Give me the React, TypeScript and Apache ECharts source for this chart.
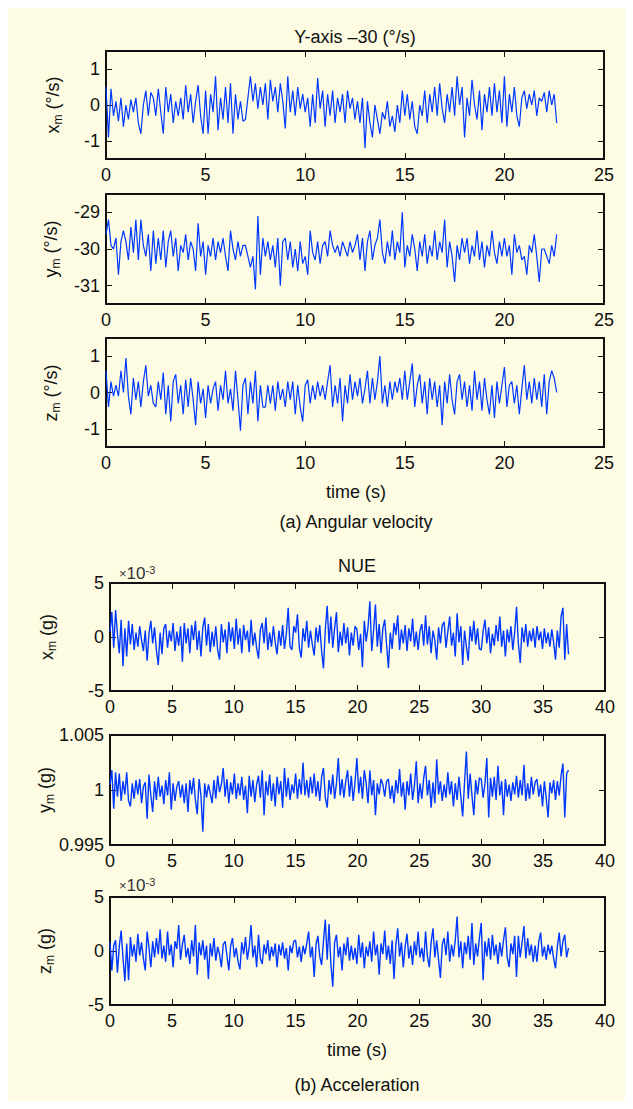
import React, { useEffect, useRef } from 'react';
import * as echarts from 'echarts';

// ---- data ----
// (a) Angular velocity, sample step 0.125 s, values in °/s
const DT_ANG = 0.125;
const angXm = [
  0.5, -0.9, 0.45, -0.3, 0.1, -0.45, 0.2, -0.6,
  0.0, -0.4, 0.15, -0.2, 0.2, -0.5, -0.8, 0.0,
  0.4, -0.3, 0.35, 0.2, -0.3, 0.45, -0.2, -0.8,
  0.5, -0.2, 0.3, -0.5, 0.1, -0.3, 0.2, -0.4,
  0.55, -0.2, 0.3, -0.5, 0.1, 0.55, -0.3, -0.8,
  0.4, -0.8, 0.3, -0.2, 0.8, -0.7, 0.2, -0.4,
  0.5, -0.5, 0.6, -0.8, 0.3, -0.4, 0.1, -0.45,
  -0.4, 0.2, 0.8, 0.1, 0.6, -0.1, 0.5, 0.0,
  0.6, -0.4, 0.7, 0.1, 0.5, -0.2, 0.6, 0.1,
  -0.65, 0.8, -0.2, 0.4, -0.3, 0.5, -0.1, 0.3,
  -0.2, 0.2, -0.6, 0.3, -0.5, 0.75, -0.1, 0.4,
  -0.6, 0.3, -0.3, 0.4, -0.5, 0.2, -0.2, 0.3,
  -0.5, 0.4, -0.1, 0.2, -0.4, 0.1, -0.5, 0.2,
  -1.2, 0.1, -0.5, -0.9, 0.0, -0.4, -0.8, -0.2,
  -0.4, 0.1, -0.6, -0.3, -0.75, 0.0, -0.5, 0.4,
  -0.3, 0.3, -0.4, 0.1, -0.6, -0.8, 0.0, -0.3,
  0.4, -0.5, 0.3, -0.2, 0.5, -0.3, 0.6, -0.1,
  -0.5, 0.3, -0.2, 0.5, -0.3, 0.8, 0.0, 0.5,
  -0.9, 0.2, -0.3, 0.7, 0.0, -0.4, 0.4, -0.7,
  0.3, -0.2, 0.5, -0.3, 0.6, -0.2, 0.4, -0.5,
  0.8, -0.6, 0.3, -0.2, 0.5, -0.3, -0.6, 0.2,
  0.4, -0.1, 0.3, 0.0, 0.4, -0.3, 0.2, 0.1,
  0.35, -0.2, 0.4, 0.0, 0.3, -0.5,
];
const angYm = [
  -29.6, -29.2, -29.9, -30.0, -29.7, -30.7, -29.8, -29.5,
  -29.8, -30.3, -29.4, -30.1, -29.2, -30.3, -29.2, -29.9,
  -30.2, -29.6, -30.6, -29.5, -30.4, -29.7, -30.3, -29.5,
  -30.5, -29.8, -29.5, -30.2, -29.7, -30.6, -29.9, -30.1,
  -29.6, -30.3, -29.8, -30.0, -30.6, -29.3, -30.2, -29.8,
  -30.7, -29.9, -30.2, -29.7, -30.3, -29.8, -30.1, -29.7,
  -30.2, -30.6, -29.5, -30.0, -30.3, -29.8, -30.2, -29.9,
  -29.9, -30.2, -30.5, -30.2, -31.1, -29.1, -30.7, -29.7,
  -30.2, -29.8, -30.3, -29.9, -30.5, -29.7, -31.0, -29.8,
  -29.7, -30.3, -29.8, -30.5, -30.0, -30.6, -29.8, -30.4,
  -30.2, -30.7, -29.5, -30.1, -30.3, -29.8, -30.4, -29.9,
  -29.8, -30.2, -29.5, -29.9, -30.1, -29.9, -30.2, -29.8,
  -30.0, -30.2, -29.8, -30.1, -29.9, -29.6, -30.3, -29.7,
  -30.6, -29.8, -29.5, -30.3, -29.9, -29.7, -29.2, -30.1,
  -30.4, -29.8, -30.2, -29.5, -30.3, -29.8, -30.1, -29.0,
  -30.5, -29.9, -30.2, -29.6, -30.0, -30.6, -29.8, -30.2,
  -29.6, -30.4, -29.9, -30.2, -29.5, -30.3, -29.8, -30.1,
  -29.2, -30.5, -29.8, -30.2, -30.9, -29.9, -30.3, -29.7,
  -30.1, -29.7, -30.4, -29.9, -30.2, -29.5, -30.3, -29.8,
  -30.5, -29.9, -30.2, -29.5, -30.1, -30.4, -29.8, -30.2,
  -29.7, -30.2, -29.9, -30.7, -29.6, -30.1, -29.9, -30.3,
  -30.2, -30.7, -29.9, -30.1, -29.6, -30.2, -30.9, -30.0,
  -30.0, -30.2, -30.4, -29.9, -30.2, -29.6,
];
const angZm = [
  0.6, -0.4, 0.3, -0.1, 0.2, -0.1, 0.6, 0.0,
  0.95, -0.1, -0.6, 0.4, -0.2, 0.3, -0.4, 0.3,
  0.75, -0.1, 0.2, -0.3, -0.4, 0.3, -0.2, 0.55,
  -0.6, 0.2, -0.8, 0.3, 0.5, -0.3, 0.2, -0.6,
  0.35, -0.4, 0.4, -0.2, -0.9, 0.3, -0.3, 0.1,
  -0.7, 0.2, -0.3, 0.1, 0.3, -0.5, 0.2, -0.2,
  0.6, -0.3, 0.1, -0.5, 0.6, -0.2, -1.05, 0.2,
  0.4, -0.6, 0.3, -0.3, 0.6, -0.8, 0.2, -0.4,
  -0.4, 0.2, -0.3, 0.2, -0.5, 0.3, -0.2, 0.1,
  -0.4, 0.3, -0.2, 0.3, -0.6, 0.2, -0.4, -0.8,
  0.2, 0.35, -0.3, 0.2, -0.2, 0.3, -0.1, 0.2,
  -0.2, 0.3, 0.75, -0.4, 0.2, -0.3, 0.4, -0.8,
  0.2, -0.3, 0.5, -0.2, 0.3, -0.1, 0.4, -0.3,
  0.1, 0.6, -0.3, 0.4, -0.2, 0.3, 1.0, -0.3,
  0.2, -0.4, 0.3, -0.2, 0.3, 0.0, 0.4, -0.2,
  0.6, -0.2, 0.3, 0.8, -0.4, 0.2, 0.5, -0.3,
  0.3, -0.6, 0.4, -0.2, 0.3, -0.4, 0.2, -0.9,
  0.3, -0.3, 0.5, -0.2, -0.6, 0.3, 0.5, -0.2,
  0.3, -0.4, 0.2, -0.5, 0.6, -0.2, 0.3, -0.5,
  0.4, -0.2, -0.6, 0.2, -0.7, 0.3, -0.3, 0.2,
  0.7, -0.4, 0.2, 0.3, -0.3, 0.2, -0.6, 0.1,
  0.75, -0.2, 0.3, -0.3, 0.4, -0.2, 0.3, -0.4,
  0.5, -0.6, 0.3, 0.6, 0.4, 0.0,
];

// (b) Acceleration, sample step 0.15 s; x/z in units of 1e-3 g, y as deviation from 1 g in 1e-3 g
const DT_ACC = 0.15;
const accXm = [
  0.5, 2.3, -1.0, 2.5, 0.3, -1.5, 1.6, -2.7, 0.8, -1.8,
  1.5, -0.7, 1.2, -1.2, 0.4, -0.9, 1.0, -0.3, -1.3, 0.6,
  -2.2, 0.3, 1.5, -0.6, 0.9, -1.2, -2.6, 0.4, -1.6, 0.8,
  1.2, -1.0, 0.6, -0.4, 1.3, -1.3, 0.5, -0.8, 1.0, -2.3,
  1.3, -0.6, 0.8, -1.5, 1.1, -0.3, 1.5, -1.2, 0.6, -1.8,
  0.9, 1.8, -0.8, 1.2, -1.4, 0.5, -0.9, 1.0, -1.2, -2.1,
  1.2, -0.5, 0.7, -1.5, 1.4, -0.4, 0.9, -1.1, 1.7, -0.7,
  0.8, -1.5, 1.1, -0.3, 0.6, -1.4, 1.6, -0.8, 0.4, -1.0,
  -2.0, 0.7, 1.3, -0.6, 1.8, -1.2, 0.4, -0.9, 1.0, -0.5,
  -1.6, 0.6, -0.8, 1.1, -1.1, 0.3, 2.7, -0.9, -1.2, 1.0,
  0.4, 2.1, -1.0, -1.9, 0.8, -0.4, 1.5, -1.0, 0.6, -0.7,
  -1.7, 0.9, -0.5, 1.1, -1.3, -2.9, 0.7, 2.9, -0.6, 1.9,
  -1.0, 0.8, 2.3, -1.4, 0.5, -0.8, 1.3, -0.6, 0.9, -1.7,
  0.4, -0.8, 1.0, 0.7, -1.2, 0.3, -2.8, 1.5, -0.4, 0.9,
  3.3, -1.3, 0.6, 3.0, -0.9, 1.2, -1.5, 0.8, 1.6, -0.7,
  -2.9, 0.4, -1.1, 1.3, 0.2, 2.0, -1.2, 0.7, -0.6, 1.1,
  -1.3, 0.8, -0.4, 1.7, -0.9, 0.5, -1.2, 0.6, 1.2, -0.8,
  2.0, -0.7, 1.0, -1.5, 0.6, -0.3, -2.1, 0.9, -0.6, 1.1,
  1.4, -1.0, 0.5, 1.9, -0.8, 0.4, -1.8, 2.2, -0.5, 1.0,
  -2.6, 0.6, -0.9, -2.2, 1.0, -0.4, 1.5, -0.7, 0.8, -1.1,
  -1.2, 0.5, 1.6, -0.6, 0.9, -1.5, 0.3, -0.8, 1.1, -0.4,
  1.9, -0.9, 0.6, -1.8, 0.7, -0.5, 1.0, -1.2, 0.4, 2.8,
  -0.6, -2.4, 0.9, -0.5, 1.2, -0.9, 0.6, -0.4, 0.8, -1.0,
  1.0, -0.3, 0.5, -1.1, 0.8, -0.6, 0.4, -0.9, 0.7, -0.5,
  -2.1, 0.6, -1.0, 1.9, 2.7, -2.1, 1.2, -1.6,
];
const accYmDevMg = [
  0.5, 1.8, -1.7, 1.6, -0.6, 1.5, -1.0, 0.8, -0.4, 1.6,
  -1.0, -1.5, 0.6, -0.8, 0.9, -0.4, 1.0, -1.2, 0.3, 0.7,
  -2.6, 1.4, -0.5, -2.0, 0.8, -0.9, 1.2, -0.6, 0.4, -1.3,
  0.9, -0.5, 1.6, -1.8, 0.6, -1.0, 0.3, 0.8, -0.7, 0.5,
  -1.2, 0.6, -2.0, 0.9, -0.4, 1.1, -0.9, -2.2, 1.0, -0.5,
  -3.8, 0.6, -0.7, 0.5, -0.3, -1.2, 0.9, -0.8, 1.3, -0.2,
  0.5, 2.0, -0.6, 1.0, -1.2, 0.7, -0.4, 1.5, -0.8, 0.6,
  -0.5, 1.2, -0.9, 0.4, -2.1, 1.3, -0.6, 0.9, -1.1, 0.5,
  1.3, -0.7, 1.8, -2.3, 0.8, -0.5, 1.4, -1.0, 0.6, -1.5,
  1.2, -0.4, 0.8, -1.6, 2.0, -0.6, 1.1, -0.9, 0.5, -0.3,
  1.5, -0.8, 1.0, -0.4, 2.5, -0.5, 0.9, -0.7, 1.2, -0.3,
  1.5, -0.6, 0.8, -1.0, 1.2, 2.0, -0.7, -1.6, 0.9, -0.4,
  1.4, -0.8, 0.6, 2.9, -0.5, 1.0, -0.7, 0.8, 1.8, -0.6,
  1.3, -1.0, 0.7, 2.9, -0.3, 1.2, -0.8, 1.8, 0.6, -1.2,
  1.8, -0.5, 0.9, -2.3, 0.6, -0.4, 1.0, 0.5, -0.6, 0.8,
  1.0, -0.8, 0.4, -1.2, 0.9, -0.3, 1.9, -0.6, 0.7, -1.8,
  0.8, -0.5, 1.5, -0.9, 0.4, 2.6, -1.2, 0.6, -0.8, 1.1,
  2.2, -0.5, 0.9, -1.6, 0.7, -1.2, 2.8, -0.4, 0.8, -1.0,
  0.5, -0.7, 1.6, -0.4, 0.8, -1.5, 0.6, -0.9, 1.2, -0.6,
  -2.4, 0.7, 3.5, -0.8, 1.5, -0.5, -2.3, 0.9, -0.4, 1.1,
  1.0, -0.7, 0.6, 2.9, -2.5, 1.1, -0.6, 1.2, -0.9, 2.2,
  -0.5, 0.8, -2.3, 1.0, -0.6, 0.5, -1.0, 0.7, -0.4, 1.3,
  -0.7, 0.9, -0.5, 2.3, -1.0, 0.6, -0.8, 1.2, -0.4, 0.7,
  1.0, -0.6, 0.5, -1.5, 0.8, -0.7, -2.5, 0.7, -0.3, 0.9,
  -0.9, 0.8, -0.5, 1.3, 2.4, -2.5, 1.5, 1.8,
];
const accZm = [
  0.8, -1.8, 0.5, 1.0, -2.0, 0.4, 1.9, -0.6, -2.8, 0.7,
  -2.7, 1.3, -0.5, 0.6, -1.0, 1.6, -0.4, 0.8, -0.7, -1.8,
  1.8, 0.3, -1.5, 0.9, -0.6, 1.2, -0.3, 2.0, -0.7, 0.5,
  -1.0, 1.8, -0.4, 0.6, -1.5, 0.9, 0.2, 2.4, -0.8, 0.6,
  1.5, -0.6, 0.3, -1.2, 1.0, -0.5, 2.4, -2.2, 0.8, -0.4,
  1.0, -0.8, 0.5, -2.6, 0.7, -0.5, 1.2, -0.9, 0.4, -0.3,
  -1.5, 0.6, 0.9, -0.4, -1.8, 0.5, 1.2, -0.6, 0.3, -1.0,
  -1.7, 0.8, -0.3, 1.3, -0.8, 0.4, 2.4, -0.6, 0.5, -1.5,
  1.5, -0.7, -1.2, 0.6, -0.3, 1.0, -0.9, 0.4, -0.5, 0.7,
  -1.5, 0.6, -0.4, 0.8, -0.7, 0.3, -1.8, 0.5, -0.2, 0.9,
  1.0, -0.6, 0.4, -1.0, 0.5, -0.3, 0.7, 1.8, -0.6, 0.4,
  -2.4, 0.6, 1.4, -0.5, -1.3, 0.9, 2.9, -0.8, 2.5, -1.2,
  -3.3, 0.8, 1.5, -0.6, 0.4, -1.8, 0.7, -0.4, 1.3, -0.9,
  0.5, -0.8, 0.3, -1.2, 1.5, -0.6, 0.8, -1.6, 0.4, -0.5,
  0.9, -1.0, 1.8, -0.4, 0.6, -2.2, 0.7, -0.3, 1.9, -0.8,
  0.5, -1.2, 1.0, -2.6, 0.6, 2.1, -0.5, 0.8, -1.5, 0.4,
  1.6, -0.7, 0.5, -1.3, 0.9, -0.4, 1.8, -0.6, 0.3, -1.0,
  1.8, -0.5, -1.5, 0.8, 2.1, -0.6, 1.0, -0.8, -2.5, 0.6,
  1.2, -0.4, 1.8, -1.0, 0.6, -0.5, 1.0, 3.2, -0.6, 0.9,
  -1.6, 0.8, -0.3, 1.4, -0.8, 2.6, -1.3, 0.7, -0.5, 1.2,
  2.6, -2.7, 0.9, -0.5, 1.2, -0.8, 1.5, -0.4, 0.6, -1.2,
  0.8, -0.5, 1.0, 2.2, -0.6, -1.5, 0.7, -0.3, 1.4, -2.4,
  1.4, -0.6, 0.8, 2.3, -0.7, 1.2, -0.4, 0.6, -1.0, 0.5,
  -1.0, 0.9, 1.7, -0.5, 0.4, -0.8, 0.6, -0.3, 0.5, -0.7,
  -1.6, 0.4, 1.7, -0.5, 0.9, 1.5, -0.6, 0.3,
];

const xTicksAng = [0, 5, 10, 15, 20, 25];
const xTicksAcc = [0, 5, 10, 15, 20, 25, 30, 35, 40];
const yTicks = [
  [-1, 0, 1],
  [-31, -30, -29],
  [-1, 0, 1],
  [-5, 0, 5],
  [0.995, 1, 1.005],
  [-5, 0, 5],
];
const yRanges = [
  [-1.5, 1.5],
  [-31.5, -28.5],
  [-1.5, 1.5],
  [-5, 5],
  [0.995, 1.005],
  [-5, 5],
];

const FONT = '"Liberation Sans", Arial, Helvetica, sans-serif';
const BLUE = '#0038ff';
const BG = '#fdfce3';

function pairs(vals: number[], dt: number, map?: (v: number) => number) {
  return vals.map((v, i) => [Math.round(i * dt * 1000) / 1000, map ? map(v) : v]);
}

const grids = [
  { left: 98, top: 43, width: 498, height: 108 },
  { left: 98, top: 186, width: 498, height: 110 },
  { left: 98, top: 330, width: 498, height: 109 },
  { left: 102, top: 575, width: 495, height: 108 },
  { left: 102, top: 727, width: 495, height: 110 },
  { left: 102, top: 889, width: 495, height: 108 },
];

export default function App() {
  const ref = useRef<HTMLDivElement>(null);
  useEffect(() => {
    if (!ref.current) return;
    const chart = echarts.init(ref.current, undefined, { renderer: 'svg' });
    const seriesData = [
      pairs(angXm, DT_ANG),
      pairs(angYm, DT_ANG),
      pairs(angZm, DT_ANG),
      pairs(accXm, DT_ACC),
      pairs(accYmDevMg, DT_ACC, (v) => Math.round((1 + v / 1000) * 1e6) / 1e6),
      pairs(accZm, DT_ACC),
    ];
    const axisLine = { show: true, onZero: false, lineStyle: { color: '#111', width: 2 } };
    const tickStyle = { color: '#111', width: 1 };
    const labelStyle = { color: '#111', fontSize: 18, fontFamily: FONT };
    const xAxis: any[] = [];
    const yAxis: any[] = [];
    const series: any[] = [];
    grids.forEach((g, i) => {
      const isAng = i < 3;
      const xmax = isAng ? 25 : 40;
      const xt = isAng ? xTicksAng : xTicksAcc;
      ['bottom', 'top'].forEach((pos) => {
        xAxis.push({
          type: 'value', gridIndex: i, position: pos, min: 0, max: xmax, interval: 5,
          axisLine,
          axisTick: { show: true, inside: true, length: 6, lineStyle: tickStyle, customValues: xt },
          axisLabel: { show: pos === 'bottom', margin: 7, ...labelStyle, customValues: xt },
          splitLine: { show: false },
        });
      });
      ['left', 'right'].forEach((pos) => {
        yAxis.push({
          type: 'value', gridIndex: i, position: pos, min: yRanges[i][0], max: yRanges[i][1],
          axisLine,
          axisTick: { show: true, inside: true, length: 6, lineStyle: tickStyle, customValues: yTicks[i] },
          axisLabel: { show: pos === 'left', margin: 6, ...labelStyle, customValues: yTicks[i] },
          splitLine: { show: false },
        });
      });
      series.push({
        type: 'line', xAxisIndex: 2 * i, yAxisIndex: 2 * i, data: seriesData[i],
        symbol: 'none', showSymbol: false, silent: true,
        lineStyle: { color: BLUE, width: isAng ? 1.2 : 1.4 },
      });
    });

    const nameRich = {
      n: { fontSize: 18, fontFamily: FONT, lineHeight: 22, fill: '#111' },
      s: { fontSize: 12, fontFamily: FONT, lineHeight: 12, verticalAlign: 'bottom', fill: '#111' },
    };
    const yName = (cx: number, cy: number, v: string, unit: string) => ({
      type: 'text', x: cx, y: cy, rotation: Math.PI / 2,
      style: { text: `{n|${v}}{s|m}{n| (${unit})}`, rich: nameRich, align: 'center', verticalAlign: 'middle', fill: '#111' },
    });
    const plain = (cx: number, cy: number, t: string) => ({
      type: 'text', x: cx, y: cy,
      style: { text: t, fontSize: 18, fontFamily: FONT, fill: '#111', align: 'center', verticalAlign: 'middle' },
    });
    const expRich = {
      x: { fontSize: 13, fontFamily: FONT, lineHeight: 18, fill: '#333' },
      a: { fontSize: 17, fontFamily: FONT, lineHeight: 18, fill: '#333' },
      b: { fontSize: 11, fontFamily: FONT, lineHeight: 11, verticalAlign: 'top', fill: '#333' },
    };
    const expo = (x: number, cy: number) => ({
      type: 'text', x, y: cy,
      style: { text: '{x|×}{a|10}{b|-3}', rich: expRich, align: 'left', verticalAlign: 'middle' },
    });

    const graphic = [
      plain(347, 29, 'Y-axis –30 (°/s)'),
      yName(45, 97, 'x', '°/s'),
      yName(43, 241, 'y', '°/s'),
      yName(43, 385, 'z', '°/s'),
      plain(348, 484, 'time (s)'),
      plain(348, 514, '(a) Angular velocity'),
      plain(349, 558, 'NUE'),
      expo(111, 565),
      yName(39, 629, 'x', 'g'),
      yName(37, 782, 'y', 'g'),
      expo(111, 877),
      yName(37, 943, 'z', 'g'),
      plain(349, 1042, 'time (s)'),
      plain(349, 1077, '(b) Acceleration'),
    ];

    chart.setOption({
      animation: false,
      backgroundColor: BG,
      grid: grids.map((g) => ({ ...g, containLabel: false })),
      xAxis,
      yAxis,
      series,
      graphic,
    });
    return () => chart.dispose();
  }, []);
  return <div ref={ref} style={{ width: 617, height: 1093, background: BG }} />;
}
